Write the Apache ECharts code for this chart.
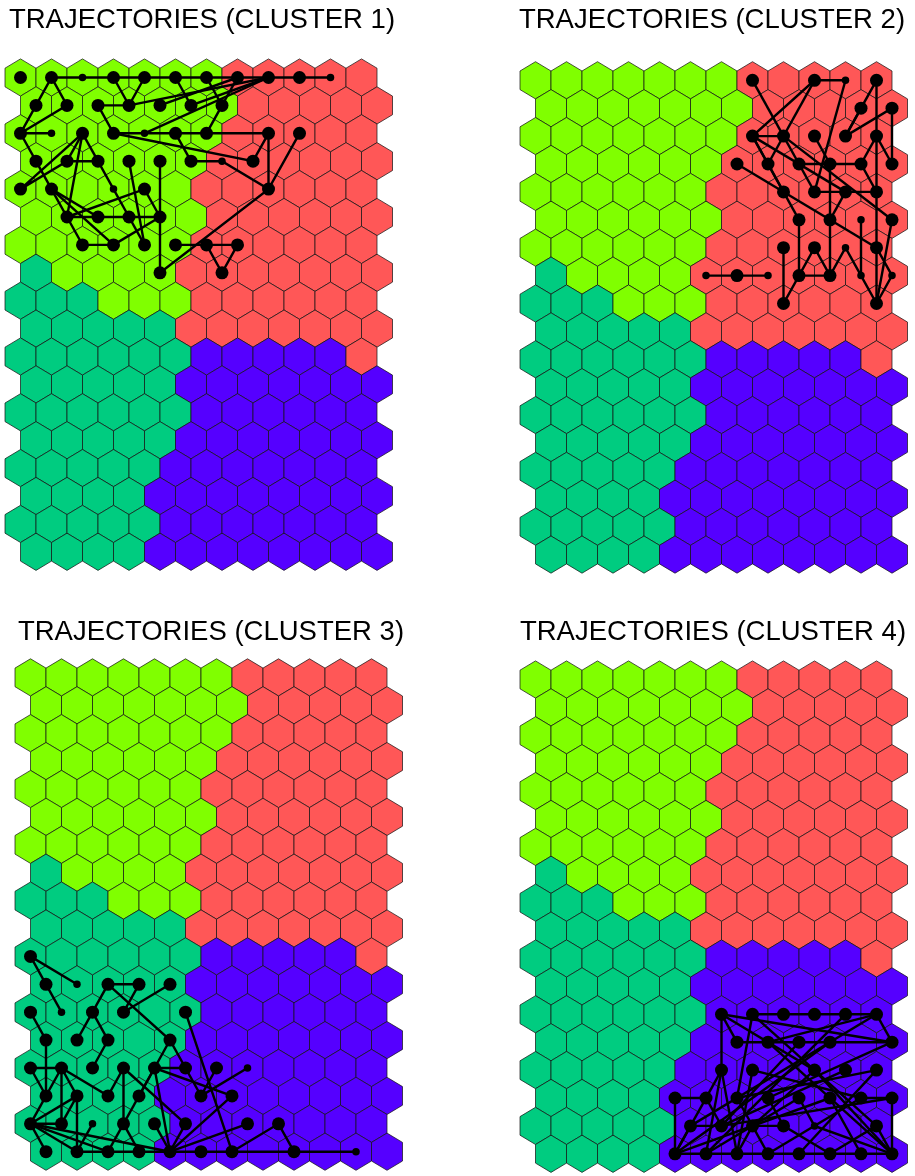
<!DOCTYPE html>
<html>
<head>
<meta charset="utf-8">
<script src="https://cdn.jsdelivr.net/npm/echarts@6/dist/echarts.min.js"></script>
<style>
  html, body { margin: 0; padding: 0; background: #ffffff; }
  #chart { width: 915px; height: 1176px; }
</style>
</head>
<body>
<div id="chart"></div>
<script>
// Self-organising map: 12 columns x 18 rows of hexagonal units, odd rows shifted half a unit.
const NCOLS = 12;
const NROWS = 18;

// Cluster of every unit, listed row by row from the top (1..4).
const clusterRows = [
  [1,1,1,1,1,1,1,2,2,2,2,2],
  [1,1,1,1,1,1,1,2,2,2,2,2],
  [1,1,1,1,1,1,1,2,2,2,2,2],
  [1,1,1,1,1,1,2,2,2,2,2,2],
  [1,1,1,1,1,1,2,2,2,2,2,2],
  [1,1,1,1,1,1,2,2,2,2,2,2],
  [1,1,1,1,1,1,2,2,2,2,2,2],
  [3,1,1,1,1,2,2,2,2,2,2,2],
  [3,3,3,1,1,1,2,2,2,2,2,2],
  [3,3,3,3,3,2,2,2,2,2,2,2],
  [3,3,3,3,3,3,4,4,4,4,4,2],
  [3,3,3,3,3,4,4,4,4,4,4,4],
  [3,3,3,3,3,3,4,4,4,4,4,4],
  [3,3,3,3,3,4,4,4,4,4,4,4],
  [3,3,3,3,3,4,4,4,4,4,4,4],
  [3,3,3,3,4,4,4,4,4,4,4,4],
  [3,3,3,3,3,4,4,4,4,4,4,4],
  [3,3,3,3,4,4,4,4,4,4,4,4]
];

const clusterColors = ['#80FF00', '#FF5757', '#00CC80', '#5500FF'];

const panelTitles = [
  'TRAJECTORIES (CLUSTER 1)',
  'TRAJECTORIES (CLUSTER 2)',
  'TRAJECTORIES (CLUSTER 3)',
  'TRAJECTORIES (CLUSTER 4)'
];

// Trajectory points: [column, row, weight] (weight 2 = frequent, 1 = rare).
const dots1 = [
  [0,0,2],[1,0,2],[2,0,1],[3,0,2],[4,0,2],[5,0,2],[6,0,2],[7,0,2],[8,0,2],[9,0,2],[10,0,1],
  [0,1,2],[1,1,2],[2,1,2],[3,1,2],[4,1,2],[5,1,2],[6,1,2],
  [0,2,2],[1,2,1],[2,2,2],[3,2,2],[4,2,1],[5,2,2],[6,2,2],[8,2,2],[9,2,2],
  [0,3,2],[1,3,2],[2,3,2],[3,3,2],[4,3,2],[5,3,2],[6,3,1],[7,3,2],
  [0,4,2],[1,4,2],[3,4,1],[4,4,2],[8,4,2],
  [1,5,2],[2,5,2],[3,5,2],[4,5,2],
  [2,6,2],[3,6,2],[4,6,2],[5,6,2],[6,6,2],[7,6,2],
  [4,7,2],[6,7,2]
];
// Trajectory paths: sequences of [column, row].
const paths1 = [
  [[1,0],[2,0],[3,0],[4,0],[5,0],[6,0],[7,0],[8,0],[9,0],[10,0]],
  [[0,2],[0,1],[1,0],[1,1],[0,2]],
  [[1,2],[0,2],[0,3],[1,4]],
  [[2,2],[0,4],[1,3],[2,3],[3,4],[3,5]],
  [[2,2],[1,3]],
  [[2,2],[2,3]],
  [[2,2],[1,5]],
  [[3,0],[3,1],[4,0]],
  [[5,0],[5,1]],
  [[6,0],[6,1],[6,2]],
  [[6,1],[7,0]],
  [[2,1],[3,1],[8,0]],
  [[2,1],[3,2],[4,2],[5,2],[6,2],[8,2],[8,4],[4,7],[4,3]],
  [[4,2],[8,0]],
  [[4,1],[7,0]],
  [[5,1],[8,0]],
  [[3,2],[7,3],[8,2]],
  [[5,2],[5,3],[6,3],[8,4],[9,2]],
  [[3,3],[4,6]],
  [[1,4],[1,5],[2,5],[3,5],[4,5],[4,4],[1,5]],
  [[1,4],[3,6],[2,6],[1,5]],
  [[1,4],[2,5]],
  [[4,5],[3,6]],
  [[3,5],[4,6]],
  [[5,6],[6,6],[7,6],[6,7],[6,6]]
];

const dots2 = [
  [7,0,2],[9,0,2],[10,0,1],[11,0,2],
  [10,1,2],[11,1,2],
  [7,2,2],[8,2,2],[9,2,2],[10,2,2],[11,2,2],
  [6,3,2],[7,3,2],[8,3,2],[9,3,2],[10,3,2],[11,3,2],
  [8,4,2],[9,4,2],[10,4,2],[11,4,2],
  [8,5,2],[9,5,2],[10,5,1],[11,5,2],
  [8,6,2],[9,6,2],[10,6,1],[11,6,2],
  [5,7,1],[6,7,2],[7,7,1],[8,7,2],[9,7,2],[10,7,1],[11,7,1],
  [8,8,2],[11,8,2]
];
const paths2 = [
  [[7,0],[8,2]],
  [[10,0],[9,0],[7,2],[8,2]],
  [[9,0],[7,3]],
  [[10,0],[9,4]],
  [[10,1],[11,0],[10,2],[11,1],[11,3]],
  [[10,2],[10,1]],
  [[11,0],[11,8]],
  [[7,2],[7,3],[8,4]],
  [[7,2],[8,4]],
  [[7,2],[10,4]],
  [[8,2],[8,3],[9,4]],
  [[8,2],[11,5]],
  [[9,2],[9,3]],
  [[11,2],[11,3]],
  [[11,2],[10,3]],
  [[8,3],[9,3],[10,3],[11,4]],
  [[6,3],[9,5]],
  [[9,3],[9,7]],
  [[9,4],[10,4],[11,4]],
  [[10,4],[9,5]],
  [[8,5],[8,7]],
  [[8,5],[8,4]],
  [[9,5],[11,6]],
  [[10,5],[10,7]],
  [[11,5],[11,8]],
  [[8,6],[8,8],[8,7],[9,7]],
  [[8,7],[9,6],[9,7]],
  [[9,7],[10,6],[10,7],[11,8]],
  [[11,6],[11,7],[11,8]],
  [[5,7],[6,7],[7,7]]
];

const dots3 = [
  [0,10,2],
  [0,11,2],[1,11,1],[2,11,2],[3,11,2],[4,11,2],
  [0,12,2],[1,12,1],[2,12,2],[3,12,2],[5,12,2],
  [0,13,2],[1,13,2],[2,13,2],[4,13,2],
  [0,14,2],[1,14,2],[2,14,2],[3,14,2],[4,14,2],[5,14,2],[6,14,2],[7,14,1],
  [0,15,2],[1,15,2],[2,15,2],[3,15,2],[5,15,2],[6,15,2],
  [0,16,2],[1,16,2],[2,16,1],[3,16,2],[4,16,2],[5,16,2],[7,16,2],[8,16,2],
  [0,17,2],[1,17,2],[2,17,2],[3,17,2],[4,17,2],[5,17,2],[6,17,2],[8,17,2],[10,17,1]
];
const paths3 = [
  [[1,11],[0,10],[0,11],[1,12]],
  [[3,11],[2,11],[2,12],[1,13]],
  [[4,11],[3,12],[3,11]],
  [[2,11],[4,13],[4,14],[3,15]],
  [[2,12],[2,13],[2,14]],
  [[0,12],[0,13],[0,15]],
  [[1,14],[0,14],[0,15],[1,14]],
  [[1,14],[1,16]],
  [[1,14],[1,15]],
  [[1,14],[2,15],[3,14],[3,16]],
  [[3,14],[5,16]],
  [[0,15],[0,16]],
  [[1,15],[0,16]],
  [[1,15],[1,16]],
  [[1,15],[1,17]],
  [[0,16],[1,16]],
  [[0,16],[0,17]],
  [[0,16],[1,17]],
  [[0,16],[2,17]],
  [[0,16],[4,17]],
  [[1,17],[2,17],[3,17],[4,17],[5,17],[6,17],[8,17],[10,17]],
  [[2,16],[1,17]],
  [[3,16],[2,17]],
  [[3,16],[3,17]],
  [[3,16],[4,14]],
  [[4,16],[4,17]],
  [[4,14],[5,14]],
  [[4,14],[6,15]],
  [[4,14],[4,17]],
  [[4,13],[5,14],[5,15],[6,14]],
  [[5,15],[7,14]],
  [[5,12],[6,17]],
  [[4,17],[7,16]],
  [[4,17],[6,15]],
  [[4,17],[5,16]],
  [[6,17],[8,16],[8,17]]
];

const dots4 = [
  [6,12,2],[7,12,2],[8,12,2],[9,12,2],[10,12,2],[11,12,2],
  [6,13,2],[7,13,2],[8,13,2],[9,13,2],[11,13,2],
  [6,14,2],[7,14,2],[9,14,2],[10,14,2],[11,14,2],
  [4,15,2],[5,15,2],[6,15,2],[7,15,2],[8,15,2],[9,15,2],[10,15,2],[11,15,2],
  [5,16,2],[6,16,2],[7,16,2],[8,16,2],[9,16,1],[11,16,2],
  [4,17,2],[5,17,2],[6,17,2],[7,17,2],[8,17,2],[9,17,2],[10,17,2],[11,17,2]
];
const paths4 = [
  [[7,12],[8,12],[9,12],[10,12],[11,12]],
  [[6,13],[7,13],[8,13],[9,13],[11,13]],
  [[6,12],[6,13]],
  [[11,12],[11,13]],
  [[6,12],[6,14]],
  [[6,12],[9,14]],
  [[6,12],[11,13]],
  [[7,12],[6,15]],
  [[7,12],[11,16]],
  [[11,12],[7,13]],
  [[11,12],[5,16]],
  [[9,13],[4,17]],
  [[7,13],[11,17]],
  [[8,13],[6,16]],
  [[10,12],[5,17]],
  [[6,14],[5,17]],
  [[6,14],[6,17]],
  [[6,14],[4,17]],
  [[7,14],[6,17]],
  [[7,14],[10,15]],
  [[9,14],[11,17]],
  [[9,14],[7,16]],
  [[10,14],[6,16]],
  [[11,14],[8,17]],
  [[4,15],[5,15]],
  [[4,15],[4,17]],
  [[5,15],[6,16]],
  [[6,15],[7,17]],
  [[6,15],[11,14]],
  [[7,15],[8,16],[9,17]],
  [[7,15],[11,13]],
  [[8,15],[5,17]],
  [[8,15],[9,16],[11,17]],
  [[9,15],[4,17]],
  [[9,15],[10,17]],
  [[10,15],[11,15]],
  [[10,15],[7,17]],
  [[11,15],[11,17]],
  [[11,15],[6,16]],
  [[5,16],[6,16]],
  [[5,16],[4,17]],
  [[7,16],[8,16]],
  [[7,16],[6,17]],
  [[11,16],[9,17]],
  [[11,16],[11,17]],
  [[4,17],[5,17],[6,17],[7,17],[8,17],[9,17],[10,17],[11,17]]
];

const panelDots = [dots1, dots2, dots3, dots4];
const panelPaths = [paths1, paths2, paths3, paths4];

// Panel placement on the page (pixels).
const panelBoxes = [
  { left: 5,   top: 58.9 },
  { left: 520, top: 61.7 },
  { left: 15,  top: 658.8 },
  { left: 520, top: 660.9 }
];
const PANEL_W = 387.5;
const PANEL_H = 511.5;
const titleCenters = [202, 712, 211, 713];
const titleTops = [6, 6, 618, 618];

// Map a unit (column, row) to map coordinates: odd rows shift right by half a unit.
function unitXY(c, r) {
  return [c + 0.5 * (r % 2), r];
}

// Pointy-top hexagon offsets in (column, row) units.
const HEX = [[0,-2/3],[0.5,-1/3],[0.5,1/3],[0,2/3],[-0.5,1/3],[-0.5,-1/3]];

const cells = [];
for (let r = 0; r < NROWS; r++) {
  for (let c = 0; c < NCOLS; c++) {
    cells.push([c, r, clusterRows[r][c]]);
  }
}

const grids = [], xAxes = [], yAxes = [], series = [], titles = [];

panelBoxes.forEach((box, i) => {
  grids.push({ left: box.left, top: box.top, width: PANEL_W, height: PANEL_H });
  xAxes.push({ gridIndex: i, type: 'value', min: -0.5, max: NCOLS, show: false });
  yAxes.push({ gridIndex: i, type: 'value', min: -2/3, max: NROWS - 1 + 2/3, inverse: true, show: false });

  titles.push({
    text: panelTitles[i],
    left: titleCenters[i],
    top: titleTops[i],
    textAlign: 'center',
    padding: 0,
    textStyle: { fontSize: 27.5, fontWeight: 'normal', color: '#000', fontFamily: "'Liberation Sans', Arial, Helvetica, sans-serif" }
  });

  series.push({
    type: 'custom',
    xAxisIndex: i, yAxisIndex: i,
    z: 1,
    silent: true,
    data: cells,
    renderItem: function (params, api) {
      const c = api.value(0), r = api.value(1), k = api.value(2);
      const ctr = unitXY(c, r);
      const pts = HEX.map(function (d) { return api.coord([ctr[0] + d[0], ctr[1] + d[1]]); });
      return {
        type: 'polygon',
        shape: { points: pts },
        style: { fill: clusterColors[k - 1], stroke: 'rgba(20,20,20,0.8)', lineWidth: 0.9 }
      };
    }
  });

  series.push({
    type: 'lines',
    coordinateSystem: 'cartesian2d',
    xAxisIndex: i, yAxisIndex: i,
    polyline: true,
    z: 2,
    silent: true,
    lineStyle: { color: '#000', width: 2.4, opacity: 1 },
    data: panelPaths[i].map(function (p) {
      return { coords: p.map(function (u) { return unitXY(u[0], u[1]); }) };
    })
  });

  series.push({
    type: 'scatter',
    xAxisIndex: i, yAxisIndex: i,
    z: 3,
    silent: true,
    symbol: 'circle',
    symbolSize: function (v) { return v[2] === 2 ? 13 : 7.5; },
    itemStyle: { color: '#000', opacity: 1 },
    data: panelDots[i].map(function (d) {
      const xy = unitXY(d[0], d[1]);
      return [xy[0], xy[1], d[2]];
    })
  });
});

const chart = echarts.init(document.getElementById('chart'), null, { renderer: 'canvas' });
chart.setOption({
  backgroundColor: '#ffffff',
  animation: false,
  title: titles,
  grid: grids,
  xAxis: xAxes,
  yAxis: yAxes,
  series: series
});
</script>
</body>
</html>
